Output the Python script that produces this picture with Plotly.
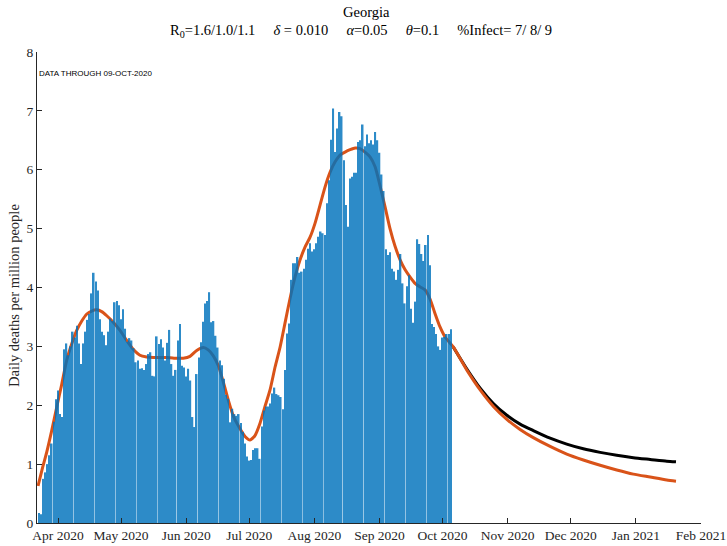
import pandas as pd
import plotly.graph_objects as go

# Daily deaths per million, one bar per day starting 23-Mar-2020.
BAR_START = "2020-03-23"
DAILY_DEATHS = [
    0.17, 0.15, 0.75, 0.86, 1.0, 1.15, 1.35, 1.72, 2.1, 2.25,
    1.85, 1.8, 2.95, 3.05, 2.85, 3.0, 3.25, 3.15, 3.35, 3.05,
    2.7, 3.05, 3.25, 3.45, 3.55, 3.9, 4.25, 4.1, 3.95, 3.46,
    3.25, 3.19, 3.02, 3.25, 3.47, 3.43, 3.75, 3.77, 3.7, 3.46,
    3.63, 3.3, 3.08, 3.14, 3.1, 2.97, 2.73, 2.76, 2.62, 2.63,
    2.6, 2.7, 2.87, 2.9, 2.5, 2.49, 3.17, 3.04, 3.12, 2.98,
    2.76, 3.06, 3.28, 2.7, 2.5, 2.6, 3.1, 3.38, 2.67, 2.64,
    2.49, 2.62, 2.42, 1.8, 1.63, 2.53, 2.81, 3.07, 3.42, 3.73,
    3.77, 3.92, 3.41, 3.43, 3.18, 2.98, 2.76, 2.68, 2.45, 2.18,
    2.11, 1.71, 1.94, 1.85, 1.82, 1.85, 1.7, 1.55, 1.35, 1.13,
    1.06, 1.07, 1.24, 1.27, 1.27, 1.09, 1.64, 1.91, 1.98, 1.98,
    2.03, 2.2, 2.3, 2.19, 2.17, 2.14, 1.93, 2.6, 3.22, 3.39,
    4.13, 4.41, 4.41, 4.52, 4.25, 4.27, 4.32, 4.47, 4.66, 4.75,
    4.61, 4.65, 4.75, 4.86, 4.95, 4.92, 4.89, 5.43, 5.82, 6.51,
    7.04, 6.3, 6.7, 6.98, 6.91, 6.16, 5.4, 5.03, 5.85, 5.88,
    5.95, 5.95, 6.47, 6.5, 6.77, 6.4, 6.6, 6.45, 6.5, 6.43,
    6.64, 6.5, 6.29, 5.92, 5.64, 4.65, 4.55, 4.6, 4.32, 4.27,
    4.13, 4.3, 4.57, 4.07, 3.73, 4.02, 4.21, 3.64, 3.4, 3.76,
    4.82, 4.74, 4.57, 4.45, 4.72, 4.89, 4.38, 3.38, 3.33, 3.21,
    3.0, 2.94, 3.15, 3.16, 3.21, 3.21, 3.29,
]

# Model fit (orange), days counted from 01-Apr-2020.
CURVE_BASE = "2020-04-01"
FIT_DAY = [
    -9.5, -7.5, -5.4, -3.0, -0.6, 1.8, 4.1, 6.5, 8.9, 11.3,
    13.7, 16.0, 18.4, 20.8, 23.2, 26.3, 29.5, 32.7, 35.8, 39.0,
    42.2, 45.4, 48.5, 51.7, 55.2, 59.6, 62.8, 66.0, 69.2, 71.5,
    73.9, 76.3, 78.7, 81.1, 83.4, 85.8, 89.0, 91.4, 93.8, 96.1,
    98.5, 100.9, 103.3, 105.7, 108.0, 110.4, 112.8, 115.2, 117.6, 119.9,
    122.3, 124.7, 127.1, 129.5, 131.8, 134.2, 136.6, 139.0, 141.4, 143.7,
    146.1, 148.5, 150.9, 153.3, 155.7, 158.0, 160.4, 162.8, 165.2, 167.5,
    169.9, 172.3, 174.7, 177.1, 179.4, 181.8, 184.2, 188.1, 194.5, 200.9,
    207.2, 213.6, 219.9, 226.2, 234.2, 242.1, 250.0, 258.0, 265.9, 273.8,
    281.8, 289.7, 294.1,
]
FIT_VALUE = [
    0.63, 0.92, 1.2, 1.57, 1.97, 2.36, 2.76, 3.04, 3.27, 3.43,
    3.55, 3.6, 3.62, 3.59, 3.52, 3.41, 3.27, 3.1, 2.95, 2.85,
    2.82, 2.81, 2.81, 2.81, 2.8, 2.8, 2.83, 2.93, 2.98, 2.94,
    2.84, 2.67, 2.39, 2.08, 1.82, 1.65, 1.47, 1.41, 1.49, 1.69,
    1.98, 2.26, 2.65, 2.99, 3.39, 3.81, 4.18, 4.47, 4.69, 4.85,
    5.09, 5.4, 5.71, 5.96, 6.13, 6.25, 6.3, 6.34, 6.37, 6.36,
    6.3, 6.22, 6.05, 5.72, 5.36, 5.0, 4.7, 4.47, 4.3, 4.18,
    4.07, 4.01, 3.96, 3.8, 3.56, 3.33, 3.16, 2.99, 2.6, 2.26,
    1.98, 1.76, 1.59, 1.45, 1.3, 1.17, 1.07, 0.98, 0.9, 0.83,
    0.78, 0.73, 0.71,
]

# Alternative projection (black).
PROJ_DAY = [188.1, 194.5, 200.9, 207.2, 213.6, 219.9, 226.2, 234.2, 242.1,
            250.0, 258.0, 265.9, 273.8, 281.8, 289.7, 294.1]
PROJ_VALUE = [2.99, 2.62, 2.29, 2.03, 1.83, 1.68, 1.57, 1.44, 1.34,
              1.26, 1.2, 1.15, 1.11, 1.08, 1.05, 1.04]

Y_TICKS = [0, 1, 2, 3, 4, 5, 6, 7, 8]
X_RANGE = ["2020-03-22", "2021-02-01"]

SERIF = "Liberation Serif, Times New Roman, serif"
AXIS_GREY = "#262626"
SP = "\u00a0" * 5

# Plot area in pixels (left, right, top, bottom edges).
PL, PR, PT, PB = 37, 701, 52, 523
PW, PH = PR - PL, PB - PT


def to_dates(days):
    return pd.Timestamp(CURVE_BASE) + pd.to_timedelta(days, unit="D")


bar_dates = pd.date_range(BAR_START, periods=len(DAILY_DEATHS), freq="D")

fig = go.Figure()

# Lines on the base axes, bars on an overlaid pair so they are drawn on top.
fig.add_trace(
    go.Scatter(
        x=to_dates(PROJ_DAY),
        y=PROJ_VALUE,
        mode="lines",
        line=dict(color="black", width=3, shape="spline", smoothing=0.6),
        hoverinfo="skip",
    )
)
fig.add_trace(
    go.Scatter(
        x=to_dates(FIT_DAY),
        y=FIT_VALUE,
        mode="lines",
        line=dict(color="#D95319", width=3, shape="spline", smoothing=0.6),
        hoverinfo="skip",
    )
)
fig.add_trace(
    go.Bar(
        x=bar_dates,
        y=DAILY_DEATHS,
        marker=dict(color="#0072BD", line=dict(width=0)),
        opacity=0.82,
        xaxis="x2",
        yaxis="y2",
    )
)

subtitle = (
    f"R<sub>0</sub>=1.6/1.0/1.1{SP}<i>\u03b4</i> = 0.010{SP}"
    f"<i>\u03b1</i>=0.05{SP}<i>\u03b8</i>=0.1{SP}%Infect= 7/ 8/ 9"
)

axis_common = dict(
    ticks="inside",
    ticklen=5,
    tickcolor=AXIS_GREY,
    showline=True,
    linecolor=AXIS_GREY,
    linewidth=1,
    showgrid=False,
    zeroline=False,
    automargin=False,
    tickfont=dict(family=SERIF, size=13.5, color=AXIS_GREY),
)

fig.update_layout(
    width=727,
    height=546,
    margin=dict(l=PL, r=727 - PR, t=PT, b=546 - PB),
    paper_bgcolor="white",
    plot_bgcolor="white",
    showlegend=False,
    bargap=0.25,
    font=dict(family=SERIF, size=14, color=AXIS_GREY),
    xaxis=dict(
        type="date",
        range=X_RANGE,
        tick0="2020-04-01",
        dtick="M1",
        tickformat="%b %Y",
        ticklabeloverflow="allow",
        **axis_common,
    ),
    yaxis=dict(range=[0, 8], tickvals=Y_TICKS, **axis_common),
    xaxis2=dict(type="date", range=X_RANGE, overlaying="x", visible=False),
    yaxis2=dict(range=[0, 8], overlaying="y", visible=False),
    annotations=[
        dict(
            text="Georgia",
            xref="paper",
            yref="paper",
            x=(366 - PL) / PW,
            y=(PB - 12) / PH,
            showarrow=False,
            xanchor="center",
            yanchor="middle",
            font=dict(family=SERIF, size=14.5, color="black"),
        ),
        dict(
            text=subtitle,
            xref="paper",
            yref="paper",
            x=(361 - PL) / PW,
            y=(PB - 31) / PH,
            showarrow=False,
            xanchor="center",
            yanchor="middle",
            font=dict(family=SERIF, size=14.5, color="black"),
        ),
        dict(
            text="Daily deaths per million people",
            xref="paper",
            yref="paper",
            x=-(PL - 14) / PW,
            y=0.482,
            textangle=-90,
            showarrow=False,
            xanchor="center",
            yanchor="middle",
            font=dict(family=SERIF, size=14.5, color=AXIS_GREY),
        ),
        dict(
            text="DATA THROUGH 09-OCT-2020",
            xref="paper",
            yref="y",
            x=0.0,
            y=7.64,
            showarrow=False,
            xanchor="left",
            yanchor="middle",
            font=dict(family="Liberation Sans, Arial, sans-serif", size=8, color="black"),
        ),
    ],
)

# Drop the page's default body margin so the figure sits at the window origin.
fig.write_html(
    "out.html",
    config={"displayModeBar": False},
    post_script="document.body.style.margin='0';",
)
